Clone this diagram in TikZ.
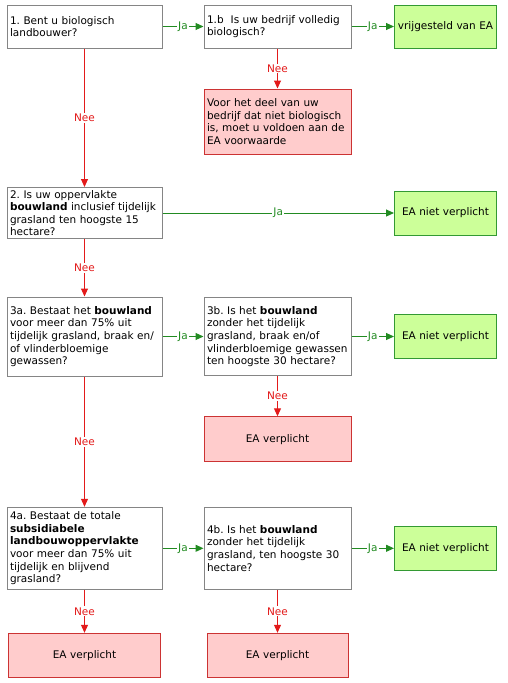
\documentclass[tikz,border=0pt]{standalone}
\usepackage{fontspec}
\setmainfont{DejaVu Sans}
\usetikzlibrary{arrows.meta}
\frenchspacing
\definecolor{boxline}{HTML}{858585}
\definecolor{jafill}{HTML}{CCFF99}
\definecolor{jaline}{HTML}{339933}
\definecolor{neefill}{HTML}{FFCCCC}
\definecolor{neeline}{HTML}{CC3333}
\definecolor{jacol}{HTML}{228B22}
\definecolor{neecol}{HTML}{E31A1A}
\tikzset{vraag/.style = {draw=boxline, fill=white, line width=1pt, align=left, inner xsep=3pt, inner ysep=1pt, font=\fontsize{10.5pt}{12.6pt}\selectfont}}
\tikzset{vrij/.style = {vraag, draw=jaline, fill=jafill, align=center}}
\tikzset{plicht/.style = {vraag, draw=neeline, fill=neefill, align=center}}
\tikzset{ja/.style = {draw=jacol, line width=1pt, -{Triangle[length=8pt,width=7pt]}}}
\tikzset{nee/.style = {draw=neecol, line width=1pt, -{Triangle[length=8pt,width=7pt]}}}
\tikzset{jalbl/.style = {fill=white, text=jacol, inner sep=1pt, font=\fontsize{10.5pt}{12pt}\selectfont}}
\tikzset{neelbl/.style = {fill=white, text=neecol, inner sep=1pt, font=\fontsize{10.5pt}{12pt}\selectfont}}

\begin{document}
\begin{tikzpicture}[x=1pt, y=-1pt]
                    \useasboundingbox (0,0) rectangle (507,683);

                    \node[vraag, text width=149pt, minimum height=43pt] (v1) at (84.5,26.5) {1. Bent u biologisch\\landbouwer?};
                    \node[vraag, text width=141pt, minimum height=43pt] (v1b) at (277.5,26.5) {1.b\ \ Is uw bedrijf volledig\\biologisch?};
                    \node[vrij, text width=96pt, minimum height=43pt] (g1) at (445.5,26.5) {vrijgesteld van EA};
                    \node[plicht, align=left, text width=141pt, minimum height=65pt] (r1) at (277.5,121.5) {Voor het deel van uw\\bedrijf dat niet biologisch\\is, moet u voldoen aan de\\EA voorwaarde};

                    \node[vraag, text width=149pt, minimum height=51pt] (v2) at (84.5,213) {2. Is uw oppervlakte\\\textbf{bouwland} inclusief tijdelijk\\grasland ten hoogste 15\\hectare?};
                    \node[vrij, text width=96pt, minimum height=44pt] (g2) at (445.5,213) {EA niet verplicht};

                    \node[vraag, text width=149pt, minimum height=79pt] (v3a) at (84.5,336.5) {3a. Bestaat het \textbf{bouwland}\\voor meer dan 75\% uit\\tijdelijk grasland, braak en/\\of vlinderbloemige\\gewassen?};
                    \node[vraag, text width=141pt, minimum height=78pt] (v3b) at (277.5,336.5) {3b. Is het \textbf{bouwland}\\zonder het tijdelijk\\grasland, braak en/of\\vlinderbloemige gewassen\\ten hoogste 30 hectare?};
                    \node[vrij, text width=96pt, minimum height=44pt] (g3) at (445.5,336.5) {EA niet verplicht};
                    \node[plicht, text width=141pt, minimum height=45pt] (r3) at (277.5,439.3) {EA verplicht};

                    \node[vraag, text width=149pt, minimum height=82pt] (v4a) at (84.5,548.3) {4a. Bestaat de totale\\\textbf{subsidiabele}\\\textbf{landbouwoppervlakte}\\voor meer dan 75\% uit\\tijdelijk en blijvend\\grasland?};
                    \node[vraag, text width=141pt, minimum height=82pt] (v4b) at (277.5,548.3) {4b. Is het \textbf{bouwland}\\zonder het tijdelijk\\grasland, ten hoogste 30\\hectare?};
                    \node[vrij, text width=96pt, minimum height=44pt] (g4) at (445.5,548.3) {EA niet verplicht};
                    \node[plicht, text width=146pt, minimum height=44pt] (r4a) at (84.5,655.3) {EA verplicht};
                    \node[plicht, text width=135pt, minimum height=44pt] (r4b) at (277.5,655.3) {EA verplicht};

                    \draw[ja] (v1) -- node[jalbl] {Ja} (v1b);
                    \draw[ja] (v1b) -- node[jalbl] {Ja} (g1);
                    \draw[nee] (v1b) -- node[neelbl] {Nee} (r1);
                    \draw[nee] (v1) -- node[neelbl] {Nee} (v2);
                    \draw[ja] (v2) -- node[jalbl] {Ja} (g2);
                    \draw[nee] (v2) -- node[neelbl] {Nee} (v3a);
                    \draw[ja] (v3a) -- node[jalbl] {Ja} (v3b);
                    \draw[ja] (v3b) -- node[jalbl] {Ja} (g3);
                    \draw[nee] (v3b) -- node[neelbl] {Nee} (r3);
                    \draw[nee] (v3a) -- node[neelbl] {Nee} (v4a);
                    \draw[ja] (v4a) -- node[jalbl] {Ja} (v4b);
                    \draw[ja] (v4b) -- node[jalbl] {Ja} (g4);
                    \draw[nee] (v4a) -- node[neelbl] {Nee} (r4a);
                    \draw[nee] (v4b) -- node[neelbl] {Nee} (r4b);
                \end{tikzpicture}
\end{document}
